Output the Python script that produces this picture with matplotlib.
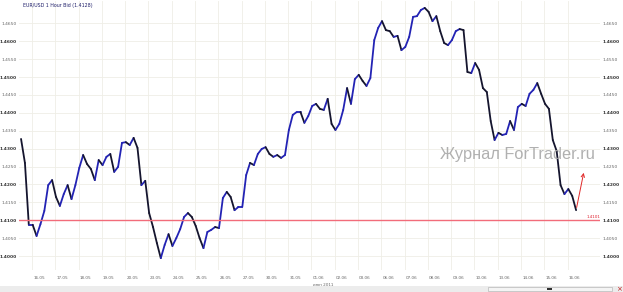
import numpy as np
import matplotlib
matplotlib.use("Agg")
import matplotlib.pyplot as plt
from matplotlib.collections import LineCollection
from matplotlib.patches import Rectangle

# EUR/USD, 4-hour samples (start: Fri 13.05 midday)
prices = [
    1.4327, 1.4260, 1.4087, 1.4087, 1.4056, 1.4089, 1.4126, 1.4198, 1.4212, 1.4165,
    1.4140, 1.4173, 1.4198, 1.4159, 1.4198, 1.4246, 1.4282, 1.4257, 1.4243, 1.4212,
    1.4268, 1.4254, 1.4277, 1.4285, 1.4235, 1.4249, 1.4316, 1.4318, 1.4310, 1.4330,
    1.4302, 1.4198, 1.4210, 1.4120, 1.4081, 1.4036, 1.3994, 1.4031, 1.4061, 1.4028,
    1.4050, 1.4075, 1.4109, 1.4120, 1.4109, 1.4084, 1.4050, 1.4022, 1.4067, 1.4073,
    1.4081, 1.4078, 1.4162, 1.4179, 1.4165, 1.4128, 1.4137, 1.4137, 1.4226, 1.4260,
    1.4254, 1.4285, 1.4299, 1.4304, 1.4285, 1.4277, 1.4282, 1.4274, 1.4282, 1.4352,
    1.4394, 1.4402, 1.4402, 1.4372, 1.4391, 1.4419, 1.4425, 1.4411, 1.4408, 1.4439,
    1.4369, 1.4352, 1.4369, 1.4408, 1.4469, 1.4425, 1.4494, 1.4506, 1.4489, 1.4475,
    1.4497, 1.4603, 1.4637, 1.4656, 1.4631, 1.4628, 1.4612, 1.4615, 1.4575, 1.4584,
    1.4612, 1.4668, 1.4670, 1.4687, 1.4693, 1.4682, 1.4656, 1.4670, 1.4628, 1.4595,
    1.4589, 1.4603, 1.4628, 1.4634, 1.4631, 1.4514, 1.4511, 1.4539, 1.4520, 1.4469,
    1.4458, 1.4377, 1.4324, 1.4344, 1.4338, 1.4341, 1.4377, 1.4352, 1.4416, 1.4425,
    1.4419, 1.4453, 1.4464, 1.4483, 1.4453, 1.4425, 1.4411, 1.4324, 1.4293, 1.4198,
    1.4173, 1.4187, 1.4168, 1.4128,
]
start_day = -0.47          # offset of first sample from 16.05 00:00, in days
samples_per_day = 6

day_labels = ["16.05", "17.05", "18.05", "19.05", "20.05", "23.05", "24.05", "25.05",
              "26.05", "27.05", "30.05", "31.05", "01.06", "02.06", "03.06", "06.06",
              "07.06", "08.06", "09.06", "10.06", "13.06", "14.06", "15.06", "16.06"]
y_ticks = [1.4000 + 0.005 * i for i in range(14)]

level = 1.4101
last_price = 1.4128
target_price = 1.4240

W, H = 623, 292
fig = plt.figure(figsize=(W / 100, H / 100), dpi=100)
fig.patch.set_facecolor("white")
ax = fig.add_axes([19 / W, 22 / H, 581 / W, 269 / H])
ax.set_facecolor("white")

x = start_day + np.arange(len(prices)) / samples_per_day
y = np.array(prices)

# grid
ax.set_xlim(-0.558, 24.39)
ax.set_ylim(1.39609, 1.47123)
ax.set_yticks(y_ticks)
ax.set_yticklabels(["%.4f" % v for v in y_ticks])
ax.set_xticks(np.arange(len(day_labels)))
ax.set_xticklabels([])
ax.grid(True, color="#efeee6", lw=0.6)
ax.set_axisbelow(True)
for s in ax.spines.values():
    s.set_visible(False)
ax.tick_params(length=0, labelleft=True, labelright=True, labelsize=3.2,
               labelcolor="#555555", pad=1.5)
for t in ax.yaxis.get_major_ticks():
    v = t.get_loc()
    bold = abs(v * 100 - round(v * 100)) < 1e-6
    for lab in (t.label1, t.label2):
        lab.set_fontweight("bold" if bold else "normal")
        lab.set_color("#333333" if bold else "#666666")

# day labels, a bit right of the day gridline
for i, lab in enumerate(day_labels):
    ax.text(i + 0.3, 1.39609 - 0.0018, lab, ha="center", va="top", fontsize=3.0,
            color="#666666", clip_on=False)
ax.text(12.05, 1.39609 - 0.0037, "июн 2011", ha="left", va="top",
        fontsize=3.0, color="#666666", clip_on=False)

# price line: blue on rises, black on falls
pts = np.column_stack([x, y])
segs = np.stack([pts[:-1], pts[1:]], axis=1)
cols = ["#2323b4" if b >= a else "#15152e" for a, b in zip(y[:-1], y[1:])]
ax.add_collection(LineCollection(segs, colors=cols, linewidths=1.3,
                                 capstyle="round", joinstyle="round"))

# support level
ax.axhline(level, color="#f26c7a", lw=1.0, zorder=3)
ax.text(24.39, level + 0.0003, "%.4f" % level, ha="right", va="bottom",
        fontsize=3.0, color="#e02030")

# forecast arrow
ax.annotate("", xy=(x[-1] + 0.35, target_price), xytext=(x[-1], last_price),
            arrowprops=dict(arrowstyle="->", color="#e02828", lw=0.7,
                            mutation_scale=6))

# title and watermark
ax.text(23 / W, 1 - 5 / H, "EUR/USD 1 Hour Bid (%.4f)" % last_price,
        transform=fig.transFigure, fontsize=3.4, color="#1f1f6a",
        ha="left", va="center")
fig.text(440 / W, 1 - 154 / H, "Журнал ForTrader.ru", fontsize=11.8,
         family="Liberation Sans", color="#a8a8a8", alpha=0.9,
         ha="left", va="center")

# scroll bar strip at the bottom
fig.patches.append(Rectangle((0, 0), 1, 6 / H, transform=fig.transFigure,
                             facecolor="#ececec", edgecolor="none"))
fig.patches.append(Rectangle((488 / W, 1 / H), 124 / W, 4 / H,
                             transform=fig.transFigure, facecolor="#f4f4f4",
                             edgecolor="#b8b8b8", lw=0.5))
fig.patches.append(Rectangle((547 / W, 2 / H), 5 / W, 2 / H,
                             transform=fig.transFigure, facecolor="#303030",
                             edgecolor="none"))
fig.text(619 / W, 3 / H, "×", fontsize=5, color="#c02020",
         ha="center", va="center")

fig.savefig("out.png", dpi=100)
